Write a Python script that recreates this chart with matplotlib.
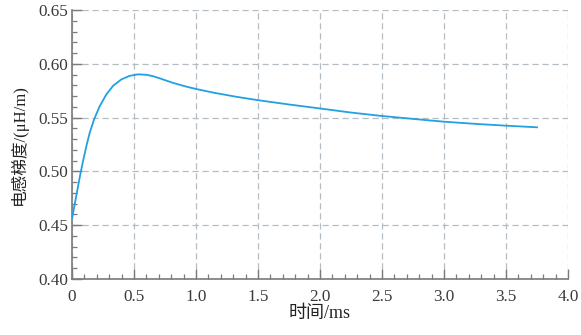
import matplotlib
matplotlib.use("Agg")
import matplotlib.pyplot as plt
from matplotlib.ticker import MultipleLocator, FormatStrFormatter

# Inductance gradient over time
time_ms = [0, 0.021, 0.043, 0.070, 0.089, 0.116, 0.142, 0.177, 0.223, 0.277,
           0.331, 0.398, 0.465, 0.532, 0.602, 0.656, 0.710, 0.817, 0.925,
           1.005, 1.14, 1.328, 1.5, 1.75, 2.0, 2.25, 2.5, 2.75, 3.0, 3.25,
           3.5, 3.75]
grad_uH_m = [0.4558, 0.4690, 0.4825, 0.4990, 0.5095, 0.5235, 0.5355, 0.5480,
             0.5605, 0.5715, 0.5795, 0.5855, 0.5888, 0.5902, 0.5898, 0.5884,
             0.5864, 0.5822, 0.5787, 0.5765, 0.5732, 0.5693, 0.5662, 0.5622,
             0.5585, 0.5547, 0.5515, 0.5488, 0.5462, 0.5442, 0.5425, 0.5410]

x_ticks = [0, 0.5, 1.0, 1.5, 2.0, 2.5, 3.0, 3.5, 4.0]
x_tick_labels = ["0", "0.5", "1.0", "1.5", "2.0", "2.5", "3.0", "3.5", "4.0"]
y_ticks = [0.40, 0.45, 0.50, 0.55, 0.60, 0.65]

label_font = ["Liberation Serif", "Noto Sans CJK SC"]

fig = plt.figure(figsize=(5.81, 3.35), dpi=100)
ax = fig.add_axes([0.1239, 0.1672, 0.9776 - 0.1239, 0.9701 - 0.1672])

ax.plot(time_ms, grad_uH_m, color="#22a0e2", lw=1.3, zorder=3,
        solid_joinstyle="round")

ax.set_xlim(0, 4.0)
ax.set_ylim(0.40, 0.65)
ax.set_xticks(x_ticks)
ax.set_xticklabels(x_tick_labels)
ax.set_yticks(y_ticks)
ax.yaxis.set_major_formatter(FormatStrFormatter("%.2f"))
ax.xaxis.set_minor_locator(MultipleLocator(0.1))
ax.yaxis.set_minor_locator(MultipleLocator(0.01))

ax.grid(True, which="major", color="#b4bcc4", linestyle=(0, (5, 3)), lw=0.9)
ax.set_axisbelow(True)

for side in ("top", "right"):
    ax.spines[side].set_visible(False)
for side in ("left", "bottom"):
    ax.spines[side].set_color("#7a7a7a")
    ax.spines[side].set_linewidth(1.2)

ax.tick_params(which="major", direction="in", length=7, width=1.0,
               color="#7a7a7a", labelsize=12.3, labelcolor="#3a3a3a")
ax.tick_params(which="minor", direction="in", length=3.5, width=0.9,
               color="#7a7a7a")
ax.tick_params(axis="x", which="major", pad=7)
ax.tick_params(axis="y", which="major", pad=3)
for lab in ax.get_xticklabels() + ax.get_yticklabels():
    lab.set_family("Liberation Serif")

ax.set_xlabel("时间/ms", family=label_font, fontsize=13, color="#222222",
              labelpad=0)
ax.set_ylabel("电感梯度/(μH/m)", family=label_font, fontsize=12,
              color="#222222", labelpad=7)

fig.savefig("out.png", dpi=100)
